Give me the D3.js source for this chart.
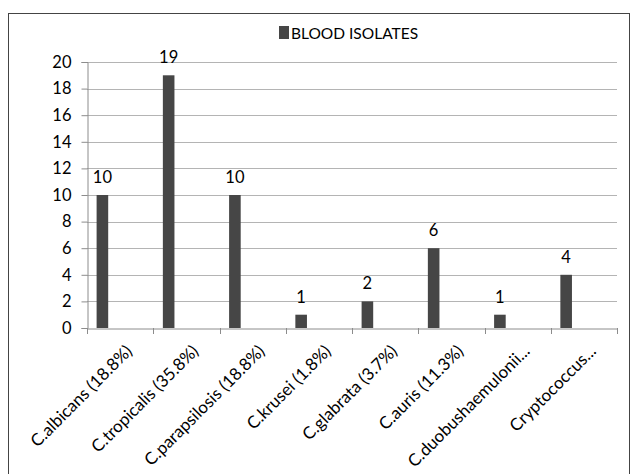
<!DOCTYPE html>
<html>
<head>
<meta charset="utf-8">
<script src="https://cdn.jsdelivr.net/npm/d3@7"></script>
<style>
  body { margin: 0; background: #fff; }
  text { font-family: Lato, "Open Sans", sans-serif; fill: #000; }
</style>
</head>
<body>
<div id="chart"></div>
<script>
var categories = ["C.albicans (18.8%)", "C.tropicalis (35.8%)", "C.parapsilosis (18.8%)",
                  "C.krusei (1.8%)", "C.glabrata (3.7%)", "C.auris (11.3%)",
                  "C.duobushaemulonii...", "Cryptococcus..."];
var counts = [10, 19, 10, 1, 2, 6, 1, 4];
var seriesName = "BLOOD ISOLATES";
var yTicks = [0, 2, 4, 6, 8, 10, 12, 14, 16, 18, 20];

var width = 636, height = 474;
var margin = {left: 87, right: 19, top: 62, bottom: 146};
var barColor = "#464646";

var svg = d3.select("#chart").append("svg")
    .attr("width", width).attr("height", height);

// outer frame
svg.append("rect")
    .attr("x", 8.5).attr("y", 13.5)
    .attr("width", 621).attr("height", 470)
    .attr("fill", "none").attr("stroke", "#444").attr("stroke-width", 1);

var x = d3.scaleBand()
    .domain(categories)
    .range([margin.left, width - margin.right])
    .paddingInner(0).paddingOuter(0);

var y = d3.scaleLinear()
    .domain([0, 20])
    .range([height - margin.bottom, margin.top]);

// gridlines
svg.append("g").selectAll("line")
    .data(yTicks.slice(1))
    .enter().append("line")
    .attr("x1", margin.left).attr("x2", width - margin.right)
    .attr("y1", function(d) { return Math.round(y(d)) + 0.5; })
    .attr("y2", function(d) { return Math.round(y(d)) + 0.5; })
    .attr("stroke", "#b4b4b4").attr("stroke-width", 1);

// y axis
var yAxis = svg.append("g")
    .attr("transform", "translate(" + (margin.left + 0.5) + ",0)")
    .call(d3.axisLeft(y).tickValues(yTicks).tickSize(6).tickPadding(10).tickFormat(d3.format("d")));
yAxis.selectAll("text").style("font-size", "16.5px");
yAxis.selectAll("line, path").attr("stroke", "#8c8c8c");

// x axis
var xAxis = svg.append("g")
    .attr("transform", "translate(0," + (Math.round(y(0)) + 0.5) + ")")
    .call(d3.axisBottom(x).tickSize(0).tickFormat(""));
xAxis.select("path").attr("stroke", "#8c8c8c");

// category boundary ticks
svg.append("g").selectAll("line")
    .data(categories.concat(["end"]))
    .enter().append("line")
    .attr("x1", function(d, i) { return Math.round(margin.left + i * x.bandwidth()) + 0.5; })
    .attr("x2", function(d, i) { return Math.round(margin.left + i * x.bandwidth()) + 0.5; })
    .attr("y1", y(0)).attr("y2", y(0) + 6)
    .attr("stroke", "#8c8c8c");

// x labels
svg.append("g").selectAll("text")
    .data(categories)
    .enter().append("text")
    .attr("transform", function(d) {
        return "translate(" + (x(d) + x.bandwidth() / 2 + 9) + "," + (y(0) + 20) + ") rotate(-45)";
    })
    .attr("text-anchor", "end")
    .attr("dy", "0.35em")
    .style("font-size", "17px")
    .text(function(d) { return d; });

// bars
var barOffset = 0.145, barWidth = 0.175;
svg.append("g").selectAll("rect")
    .data(counts)
    .enter().append("rect")
    .attr("x", function(d, i) { return x(categories[i]) + x.bandwidth() * barOffset; })
    .attr("width", x.bandwidth() * barWidth)
    .attr("y", function(d) { return y(d); })
    .attr("height", function(d) { return y(0) - y(d); })
    .attr("fill", barColor);

// data labels
svg.append("g").selectAll("text")
    .data(counts)
    .enter().append("text")
    .attr("x", function(d, i) { return x(categories[i]) + x.bandwidth() * (barOffset + barWidth / 2); })
    .attr("y", function(d) { return y(d) - 12; })
    .attr("text-anchor", "middle")
    .style("font-size", "16.5px")
    .text(function(d) { return d; });

// legend
var legend = svg.append("g").attr("transform", "translate(279,26)");
legend.append("rect").attr("width", 10).attr("height", 13).attr("fill", barColor);
legend.append("text").attr("x", 12).attr("y", 12.5).style("font-size", "15.5px").text(seriesName);
</script>
</body>
</html>
